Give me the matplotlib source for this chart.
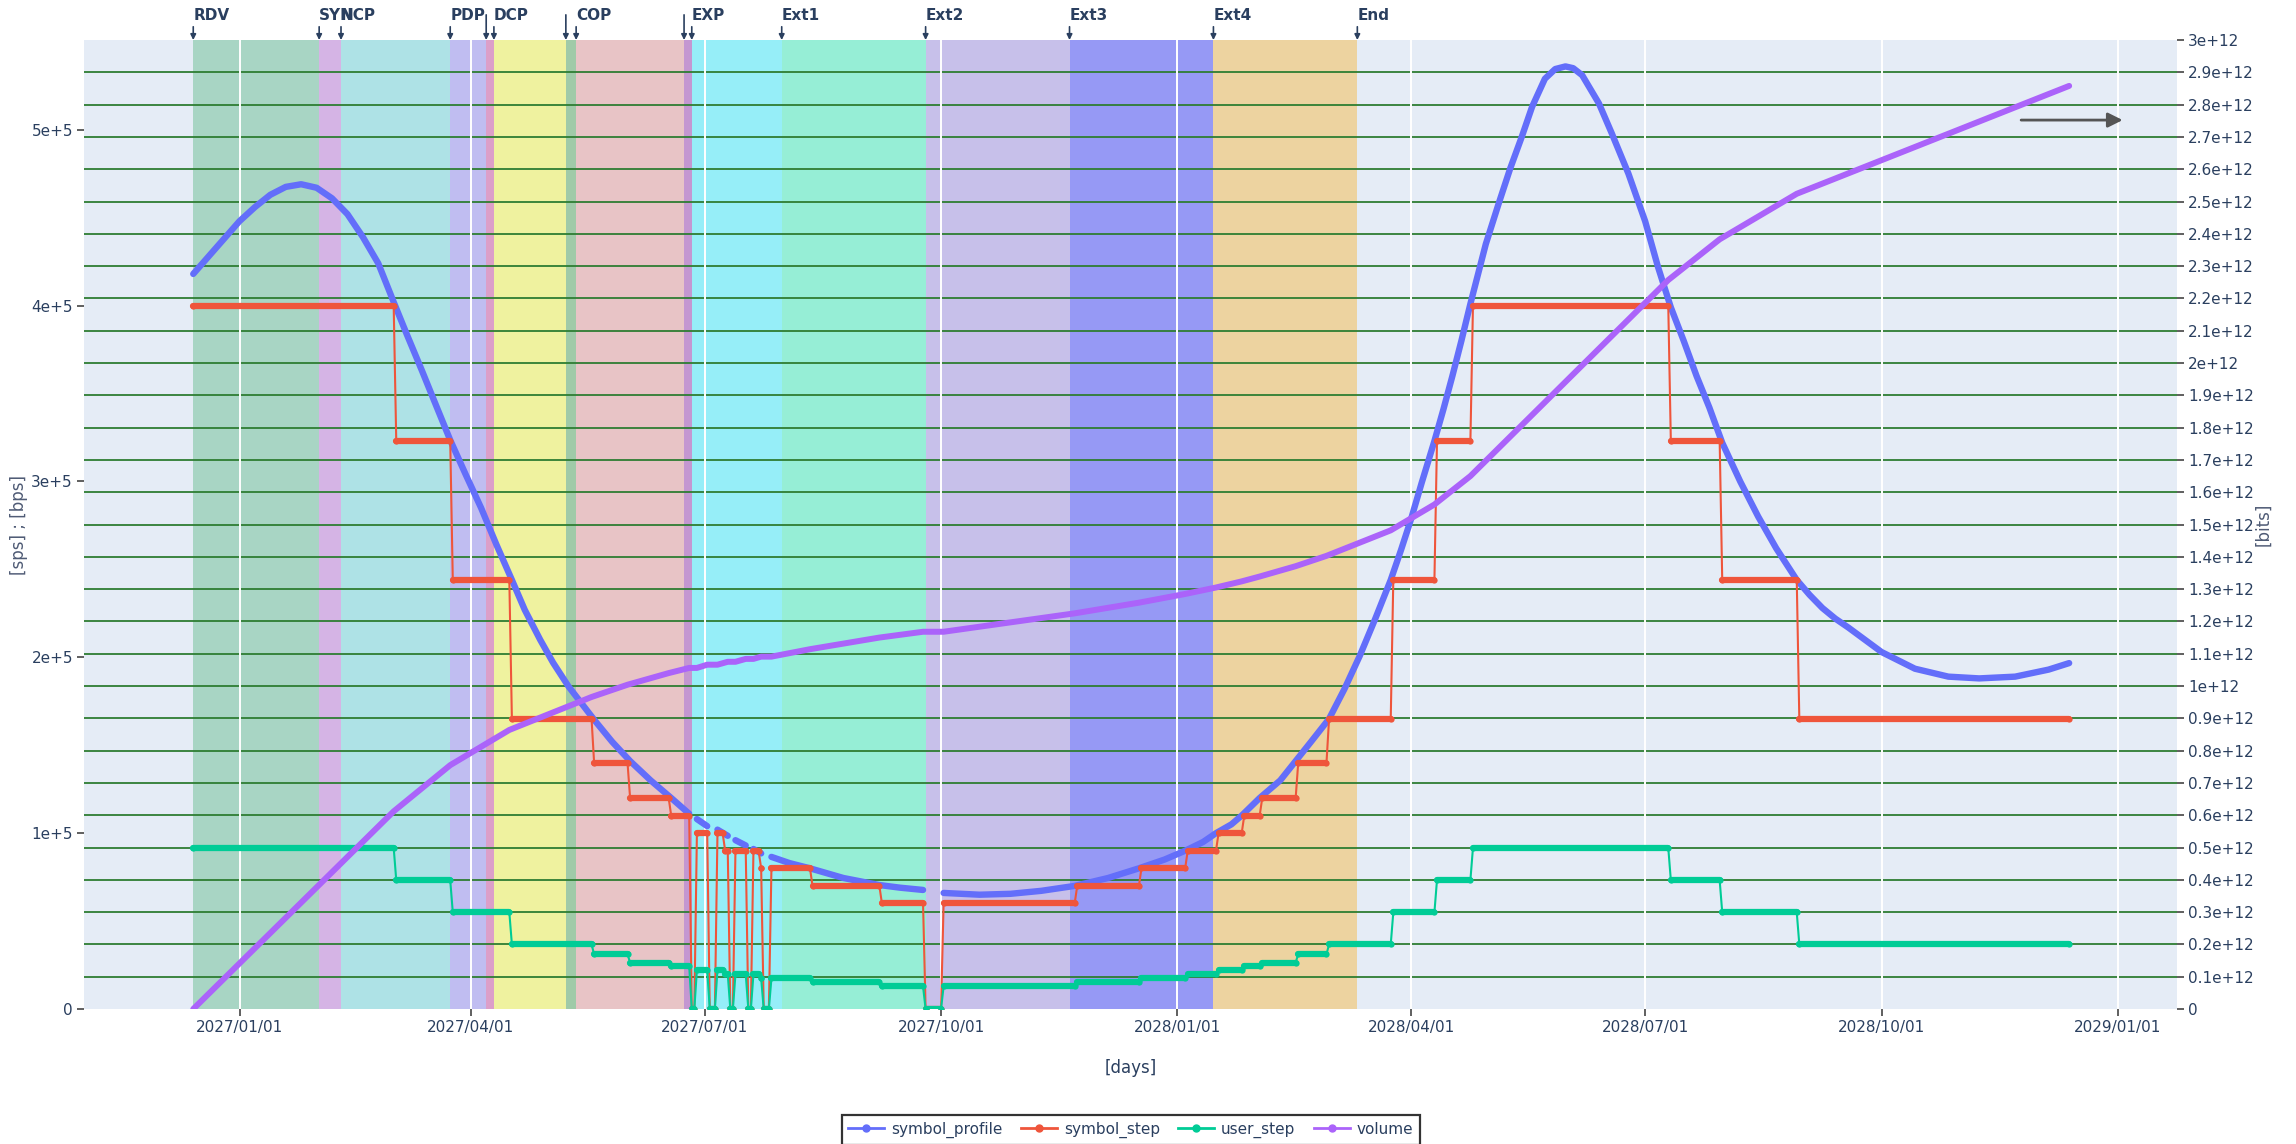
import numpy as np
import pandas as pd
import matplotlib
matplotlib.use("Agg")
import matplotlib.pyplot as plt
import matplotlib.dates as mdates
from matplotlib.lines import Line2D

plt.rcParams['font.family'] = 'DejaVu Sans'

# mission phases: each one is shaded until the start of the next one
phase_labels = ['RDV', 'SYN', 'NCP', 'PDP', '', 'DCP', '', 'COP', '', 'EXP',
                'Ext1', 'Ext2', 'Ext3', 'Ext4', 'End']
phase_dates = ['2026-12-14', '2027-02-01', '2027-02-09 12:00', '2027-03-24', '2027-04-07',
               '2027-04-10', '2027-05-08', '2027-05-12', '2027-06-23', '2027-06-26',
               '2027-07-31', '2027-09-25', '2027-11-20', '2028-01-15', '2028-03-11']
phase_colors = ['#A8D5C4', '#D5B4E5', '#AEE2E6', '#C0BDF1', '#DC9FC9', '#EFF29F', '#A0CAA8',
                '#E8C4C6', '#C497D1', '#96EEF8', '#96EED6', '#C7C0EA', '#9699F5', '#EDD3A0']

# all series use days counted from 2027-01-01
day0 = pd.Timestamp('2027-01-01')

# symbol_profile [sps], nan = no contact
profile_day = [-18, -12, -6, 0, 6, 12, 18, 24, 30, 36, 42, 48, 54, 60, 65, 71, 76, 82, 88, 94,
               100, 106, 111, 117, 122, 128, 133, 138, 145, 152, 160, 168, 175,
               176.5, 178, 182, 184, 186, 190, 191.5, 193, 197, 198.5, 200, 203, 205,
               207, 214, 222, 235, 249, 257, 266, 270,
               274, 288, 300, 312, 325, 338, 350, 360, 368, 375, 380, 386, 390, 397, 405, 411,
               417, 424, 430, 436, 442, 448, 452, 456, 460, 465, 468.5, 472, 475.5, 479, 485,
               490, 494.5, 499, 503, 508, 512, 516, 519, 522.5, 529, 534, 540.5, 547, 552,
               557, 562, 567, 572, 577, 584, 591, 598, 606, 611, 616, 621, 626, 639, 652, 665,
               677, 691, 704, 712]
symbol_profile = [4.18e5, 4.28e5, 4.38e5, 4.48e5, 4.56e5, 4.63e5, 4.675e5, 4.69e5, 4.67e5,
                  4.61e5, 4.52e5, 4.39e5, 4.24e5, 4.02e5, 3.84e5, 3.63e5, 3.45e5, 3.235e5,
                  3.04e5, 2.85e5, 2.64e5, 2.44e5, 2.27e5, 2.10e5, 1.97e5, 1.835e5, 1.74e5,
                  1.645e5, 1.52e5, 1.41e5, 1.30e5, 1.20e5, 1.11e5,
                  np.nan, 1.08e5, 1.04e5, np.nan, 1.02e5, 0.985e5, np.nan, 0.96e5, 0.93e5,
                  np.nan, 0.91e5, 0.885e5, np.nan,
                  0.865e5, 0.83e5, 0.80e5, 0.745e5, 0.705e5, 0.69e5, 0.677e5, np.nan,
                  0.66e5, 0.65e5, 0.655e5, 0.672e5, 0.70e5, 0.745e5, 0.80e5, 0.85e5, 0.90e5,
                  0.95e5, 1.0e5, 1.05e5, 1.1e5, 1.2e5, 1.3e5, 1.41e5,
                  1.52e5, 1.65e5, 1.82e5, 2.01e5, 2.22e5, 2.44e5, 2.61e5, 2.79e5, 2.99e5, 3.23e5,
                  3.41e5, 3.60e5, 3.80e5, 4.01e5, 4.35e5, 4.58e5, 4.78e5, 4.96e5, 5.13e5,
                  5.29e5, 5.345e5, 5.36e5, 5.35e5, 5.31e5, 5.15e5, 4.98e5, 4.75e5, 4.48e5,
                  4.22e5, 3.99e5, 3.80e5, 3.60e5, 3.42e5, 3.22e5, 3.0e5, 2.80e5, 2.62e5,
                  2.44e5, 2.355e5, 2.28e5, 2.22e5, 2.17e5, 2.03e5, 1.935e5, 1.89e5, 1.88e5,
                  1.89e5, 1.93e5, 1.967e5]

# step plateaus (first day, last day) shared by symbol_step and user_step
step_start = [-18, 61, 83, 106, 138, 152, 168, 176, 178, 183, 186, 189, 191, 193, 198, 200, 203,
              204, 207, 223, 250, 267, 274, 326, 351, 369, 381, 391, 398, 412, 424, 449, 466,
              480, 557, 577, 607]
step_end = [60, 82, 105, 137, 151, 167, 175, 177, 182, 185, 188, 190, 192, 197, 199, 202, 203,
            206, 222, 249, 266, 273, 325, 350, 368, 380, 390, 397, 411, 423, 448, 465, 479,
            556, 576, 606, 712]
symbol_step = [4.0e5, 3.23e5, 2.44e5, 1.65e5, 1.40e5, 1.20e5, 1.10e5, 0, 1.0e5, 0, 1.0e5, 0.9e5,
               0, 0.9e5, 0, 0.9e5, 0.8e5, 0, 0.8e5, 0.7e5, 0.6e5, 0, 0.6e5, 0.7e5, 0.8e5, 0.9e5,
               1.0e5, 1.1e5, 1.2e5, 1.4e5, 1.65e5, 2.44e5, 3.23e5, 4.0e5, 3.23e5, 2.44e5, 1.65e5]
user_step = [0.917e5, 0.733e5, 0.55e5, 0.367e5, 0.312e5, 0.264e5, 0.246e5, 0, 0.223e5, 0,
             0.223e5, 0.198e5, 0, 0.198e5, 0, 0.198e5, 0.174e5, 0, 0.174e5, 0.151e5, 0.128e5,
             0, 0.128e5, 0.151e5, 0.174e5, 0.198e5, 0.223e5, 0.246e5, 0.264e5, 0.312e5,
             0.367e5, 0.55e5, 0.733e5, 0.917e5, 0.733e5, 0.55e5, 0.367e5]

# cumulated volume [bits]
volume_day = [-18, 60, 82, 105, 137, 151, 167, 175, 178, 182, 186, 190, 193, 197, 200, 203, 207,
              222, 249, 266, 274, 325, 350, 368, 380, 390, 397, 411, 423, 448, 465, 479, 556,
              576, 606, 712]
volume = [0, 0.612e12, 0.755e12, 0.864e12, 0.966e12, 1.004e12, 1.040e12, 1.056e12, 1.056e12,
          1.066e12, 1.066e12, 1.075e12, 1.075e12, 1.084e12, 1.084e12, 1.091e12, 1.091e12,
          1.114e12, 1.150e12, 1.168e12, 1.168e12, 1.225e12, 1.258e12, 1.285e12, 1.305e12,
          1.324e12, 1.339e12, 1.371e12, 1.403e12, 1.482e12, 1.562e12, 1.650e12, 2.257e12,
          2.383e12, 2.524e12, 2.858e12]

TXT = '#2a3f5f'
C_PROFILE, C_SYMBOL, C_USER, C_VOLUME = '#636EFA', '#EF553B', '#00CC96', '#AB63FA'


def to_dates(days):
    return day0 + pd.to_timedelta(np.asarray(days, dtype=float), unit='D')


def draw_steps(axis, starts, ends, values, color, z):
    # thin line through every plateau corner, thick plateaus on top
    xs = np.column_stack([starts, ends]).ravel()
    ys = np.repeat(values, 2)
    axis.plot(to_dates(xs), ys, color=color, lw=1.5, zorder=z)
    for s, e, v in zip(starts, ends, values):
        axis.plot(to_dates([s, e]), [v, v], color=color, lw=4.5, solid_capstyle='round',
                  marker='o', ms=4.5, mew=0, zorder=z)


fig = plt.figure(figsize=(22.96, 11.44), dpi=100)
ax = fig.add_axes([0.0366, 0.118, 0.9116, 0.847])
ax_r = ax.twinx()   # right scale, background layer (shading + green grid)
ax_v = ax.twinx()   # volume drawn on top of everything
ax_r.set_zorder(0)
ax.set_zorder(1)
ax_v.set_zorder(2)
ax.patch.set_visible(False)
ax_r.patch.set_visible(True)
ax_r.set_facecolor('#E5ECF6')
ax_v.patch.set_visible(False)

xl = to_dates([-60.5, 754])
ax.set_xlim(xl[0], xl[1])

# phase shading
pdates = pd.to_datetime(phase_dates, format='ISO8601')
pnum = mdates.date2num(pdates)
for i, col in enumerate(phase_colors):
    ax_r.axvspan(pdates[i], pdates[i + 1], color=col, lw=0, zorder=0.2)

# right axis and its green grid
right_ticks = np.arange(31) * 0.1e12
right_labels = ['0' if k == 0 else f'{k / 10:g}e+12' for k in range(31)]
ax_r.set_ylim(0, 3e12)
ax_r.set_yticks(right_ticks)
ax_r.set_yticklabels(right_labels)
for y in right_ticks[1:-1]:
    ax_r.axhline(y, color='#2E7D32', lw=1.3, zorder=0.6)
ax_v.set_ylim(0, 3e12)
ax_v.axis('off')

# data
ax.plot(to_dates(profile_day), symbol_profile, color=C_PROFILE, lw=4.6,
        solid_capstyle='round', solid_joinstyle='round', zorder=2)
draw_steps(ax, step_start, step_end, symbol_step, C_SYMBOL, 3)
draw_steps(ax, step_start, step_end, user_step, C_USER, 4)
ax_v.plot(to_dates(volume_day), volume, color=C_VOLUME, lw=4.3,
          solid_capstyle='round', solid_joinstyle='round', zorder=2)

# left axis
ax.set_ylim(0, 5.51e5)
ax.set_yticks([0, 1e5, 2e5, 3e5, 4e5, 5e5])
ax.set_yticklabels(['0', '1e+5', '2e+5', '3e+5', '4e+5', '5e+5'])
ax.xaxis.set_major_locator(mdates.MonthLocator(bymonth=[1, 4, 7, 10]))
ax.xaxis.set_major_formatter(mdates.DateFormatter('%Y/%m/%d'))
ax.grid(axis='x', color='white', lw=1.4)
ax.set_axisbelow(True)

for a in (ax, ax_r):
    for sp in a.spines.values():
        sp.set_visible(False)
    a.tick_params(direction='out', length=5, width=1.2, color='#444444',
                  labelcolor=TXT, labelsize=11, pad=3)

ax.set_xlabel('[days]', fontsize=12, color=TXT)
ax.xaxis.set_label_coords(0.5, -0.052)
ax.set_ylabel('[sps] ; [bps]', fontsize=12, color='#4f5b75')
ax.yaxis.set_label_coords(-0.027, 0.5)
ax_r.set_ylabel('[bits]', fontsize=12, color='#4f5b75')
ax_r.yaxis.set_label_coords(1.037, 0.5)

# phase markers above the plot
trans = ax.get_xaxis_transform()
for lab, d in zip(phase_labels, pnum):
    y0 = 1.0137 if lab else 1.026
    ax.annotate('', xy=(d, 1.0), xytext=(d, y0), xycoords=trans, textcoords=trans,
                arrowprops=dict(arrowstyle='-|>', color=TXT, lw=1.2, mutation_scale=8,
                                shrinkA=0, shrinkB=0))
    if lab:
        ax.text(d, 1.025, lab, transform=trans, ha='left', va='center', fontsize=11,
                fontweight='bold', color=TXT)

# grey arrow in the upper right corner
ax_v.annotate('', xy=(0.974, 0.9174), xytext=(0.9255, 0.9174), xycoords='axes fraction',
              arrowprops=dict(arrowstyle='-|>', color='#555555', lw=2, mutation_scale=22,
                              shrinkA=0, shrinkB=0))

handles = [Line2D([0], [0], color=c, lw=2, marker='o', ms=5)
           for c in (C_PROFILE, C_SYMBOL, C_USER, C_VOLUME)]
leg = fig.legend(handles, ['symbol_profile', 'symbol_step', 'user_step', 'volume'],
                 loc='center', bbox_to_anchor=(0.4925, 0.0125), ncol=4, frameon=True,
                 fancybox=False, edgecolor='black', fontsize=11, handlelength=2.35,
                 handletextpad=0.45, columnspacing=1.2, borderpad=0.45, labelcolor=TXT)
leg.get_frame().set_linewidth(1.6)

fig.savefig('out.png', dpi=100)
